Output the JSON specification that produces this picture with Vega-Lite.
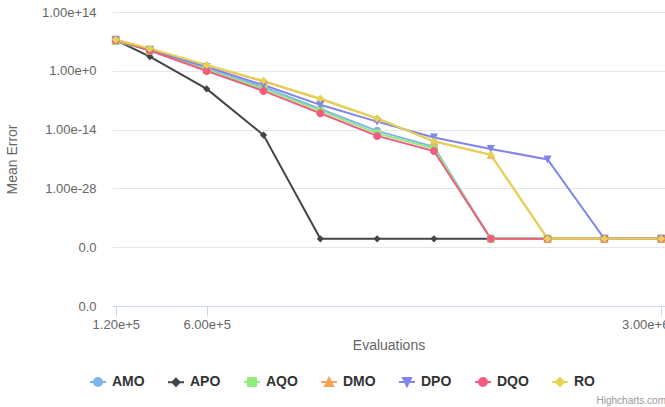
{
  "$schema": "https://vega.github.io/schema/vega-lite/v6.json",
  "width": 553,
  "height": 294,
  "autosize": "none",
  "padding": {"left": 112, "top": 12, "right": 0, "bottom": 101},
  "background": "#ffffff",
  "config": {
    "view": {"stroke": null},
    "font": "Liberation Sans"
  },
  "title": {
    "text": "Highcharts.com",
    "orient": "bottom",
    "anchor": "end",
    "frame": "group",
    "fontSize": 10,
    "fontWeight": "normal",
    "color": "#999999",
    "offset": 6,
    "dx": 1
  },
  "data": {
    "values": [
      {"s": "AMO", "x": 120000, "y": 2.0e7},
      {"s": "AMO", "x": 300000, "y": 7.9e4},
      {"s": "AMO", "x": 600000, "y": 2.5},
      {"s": "AMO", "x": 900000, "y": 1.26e-4},
      {"s": "AMO", "x": 1200000, "y": 7.9e-10},
      {"s": "AMO", "x": 1500000, "y": 5.0e-15},
      {"s": "AMO", "x": 1800000, "y": 7.9e-19},
      {"s": "AMO", "x": 2100000, "y": 1e-40},
      {"s": "AMO", "x": 2400000, "y": 1e-40},
      {"s": "AMO", "x": 2700000, "y": 1e-40},
      {"s": "AMO", "x": 3000000, "y": 1e-40},
      {"s": "APO", "x": 120000, "y": 2.0e7},
      {"s": "APO", "x": 300000, "y": 2.5e3},
      {"s": "APO", "x": 600000, "y": 5.0e-5},
      {"s": "APO", "x": 900000, "y": 5.0e-16},
      {"s": "APO", "x": 1200000, "y": 1e-40},
      {"s": "APO", "x": 1500000, "y": 1e-40},
      {"s": "APO", "x": 1800000, "y": 1e-40},
      {"s": "APO", "x": 2100000, "y": 1e-40},
      {"s": "APO", "x": 2400000, "y": 1e-40},
      {"s": "APO", "x": 2700000, "y": 1e-40},
      {"s": "APO", "x": 3000000, "y": 1e-40},
      {"s": "AQO", "x": 120000, "y": 1.26e7},
      {"s": "AQO", "x": 300000, "y": 6.3e4},
      {"s": "AQO", "x": 600000, "y": 1.6},
      {"s": "AQO", "x": 900000, "y": 5.0e-5},
      {"s": "AQO", "x": 1200000, "y": 3.2e-10},
      {"s": "AQO", "x": 1500000, "y": 1.26e-15},
      {"s": "AQO", "x": 1800000, "y": 3.2e-19},
      {"s": "AQO", "x": 2100000, "y": 1e-40},
      {"s": "AQO", "x": 2400000, "y": 1e-40},
      {"s": "AQO", "x": 2700000, "y": 1e-40},
      {"s": "AQO", "x": 3000000, "y": 1e-40},
      {"s": "DMO", "x": 120000, "y": 2.5e7},
      {"s": "DMO", "x": 300000, "y": 1.6e5},
      {"s": "DMO", "x": 600000, "y": 20},
      {"s": "DMO", "x": 900000, "y": 3.2e-3},
      {"s": "DMO", "x": 1200000, "y": 2.0e-7},
      {"s": "DMO", "x": 1500000, "y": 4.0e-12},
      {"s": "DMO", "x": 1800000, "y": 1.6e-17},
      {"s": "DMO", "x": 2100000, "y": 1.0e-20},
      {"s": "DMO", "x": 2400000, "y": 1e-40},
      {"s": "DMO", "x": 2700000, "y": 1e-40},
      {"s": "DMO", "x": 3000000, "y": 1e-40},
      {"s": "DPO", "x": 120000, "y": 2.5e7},
      {"s": "DPO", "x": 300000, "y": 1.0e5},
      {"s": "DPO", "x": 600000, "y": 7.9},
      {"s": "DPO", "x": 900000, "y": 4.0e-4},
      {"s": "DPO", "x": 1200000, "y": 7.9e-9},
      {"s": "DPO", "x": 1500000, "y": 7.9e-13},
      {"s": "DPO", "x": 1800000, "y": 1.26e-16},
      {"s": "DPO", "x": 2100000, "y": 2.5e-19},
      {"s": "DPO", "x": 2400000, "y": 7.9e-22},
      {"s": "DPO", "x": 2700000, "y": 1e-40},
      {"s": "DPO", "x": 3000000, "y": 1e-40},
      {"s": "DQO", "x": 120000, "y": 2.0e7},
      {"s": "DQO", "x": 300000, "y": 6.3e4},
      {"s": "DQO", "x": 600000, "y": 0.9},
      {"s": "DQO", "x": 900000, "y": 1.6e-5},
      {"s": "DQO", "x": 1200000, "y": 7.9e-11},
      {"s": "DQO", "x": 1500000, "y": 3.2e-16},
      {"s": "DQO", "x": 1800000, "y": 7.9e-20},
      {"s": "DQO", "x": 2100000, "y": 1e-40},
      {"s": "DQO", "x": 2400000, "y": 1e-40},
      {"s": "DQO", "x": 2700000, "y": 1e-40},
      {"s": "DQO", "x": 3000000, "y": 1e-40},
      {"s": "RO", "x": 120000, "y": 2.5e7},
      {"s": "RO", "x": 300000, "y": 2.0e5},
      {"s": "RO", "x": 600000, "y": 25},
      {"s": "RO", "x": 900000, "y": 4.0e-3},
      {"s": "RO", "x": 1200000, "y": 2.5e-7},
      {"s": "RO", "x": 1500000, "y": 5.0e-12},
      {"s": "RO", "x": 1800000, "y": 1.6e-17},
      {"s": "RO", "x": 2100000, "y": 1.0e-20},
      {"s": "RO", "x": 2400000, "y": 1e-40},
      {"s": "RO", "x": 2700000, "y": 1e-40},
      {"s": "RO", "x": 3000000, "y": 1e-40}
    ]
  },
  "encoding": {
    "x": {
      "field": "x",
      "type": "quantitative",
      "scale": {"domain": [100000, 3020000], "nice": false, "zero": false},
      "axis": {
        "title": "Evaluations",
        "values": [120000, 600000, 3000000],
        "format": ".2e",
        "grid": false,
        "domainColor": "#ccd6eb",
        "tickColor": "#ccd6eb",
        "tickSize": 10,
        "labelPadding": 2,
        "labelFontSize": 13,
        "labelColor": "#666666",
        "labelFont": "Liberation Sans",
        "labelOffset": {"condition": {"test": "datum.value >= 3000000", "value": -16}, "value": 0},
        "titleFont": "Liberation Sans",
        "titleFontSize": 14,
        "titleFontWeight": "normal",
        "titleColor": "#666666",
        "titlePadding": 7
      }
    },
    "y": {
      "field": "y",
      "type": "quantitative",
      "scale": {"type": "log", "domain": [1e-56, 1e14], "nice": false},
      "axis": {
        "title": "Mean Error",
        "values": [1e14, 1, 1e-14, 1e-28, 1e-42, 1e-56],
        "labelExpr": "datum.value < 1e-35 ? '0.0' : format(datum.value, '.2e')",
        "domain": false,
        "ticks": false,
        "gridColor": "#e6e6e6",
        "labelPadding": 16,
        "labelFontSize": 13,
        "labelColor": "#666666",
        "labelFont": "Liberation Sans",
        "titleFont": "Liberation Sans",
        "titleFontSize": 14,
        "titleFontWeight": "normal",
        "titleColor": "#666666",
        "titlePadding": 22
      }
    },
    "color": {
      "field": "s",
      "type": "nominal",
      "scale": {
        "domain": ["AMO", "APO", "AQO", "DMO", "DPO", "DQO", "RO"],
        "range": ["#7cb5ec", "#434348", "#90ed7d", "#f7a35c", "#8085e9", "#f15c80", "#e4d354"]
      },
      "legend": {
        "title": null,
        "orient": "none",
        "direction": "horizontal",
        "legendX": -23,
        "legendY": 361,
        "symbolSize": 256,
        "symbolStrokeWidth": 2,
        "labelFont": "Liberation Sans",
        "labelFontSize": 14,
        "labelFontWeight": "bold",
        "labelColor": "#333333",
        "labelOffset": 5,
        "columnPadding": 19,
        "gridAlign": "each"
      }
    }
  },
  "layer": [
    {
      "mark": {"type": "line", "strokeWidth": 2, "clip": false}
    },
    {
      "mark": {"type": "point", "filled": true, "size": 256, "opacity": 1, "strokeWidth": 0, "clip": false},
      "encoding": {
        "stroke": {
          "field": "s",
          "type": "nominal",
          "scale": {
            "domain": ["AMO", "APO", "AQO", "DMO", "DPO", "DQO", "RO"],
            "range": ["#7cb5ec", "#434348", "#90ed7d", "#f7a35c", "#8085e9", "#f15c80", "#e4d354"]
          },
          "legend": {
            "title": null,
            "orient": "none",
            "direction": "horizontal",
            "legendX": -23,
            "legendY": 361
          }
        },
        "shape": {
          "field": "s",
          "type": "nominal",
          "scale": {
            "domain": ["AMO", "APO", "AQO", "DMO", "DPO", "DQO", "RO"],
            "range": [
              "M-1,0H1M-0.5,0A0.5,0.5,0,1,1,0.5,0A0.5,0.5,0,1,1,-0.5,0Z",
              "M-1,0H1M0,-0.45L0.45,0L0,0.45L-0.45,0Z",
              "M-1,0H1M-0.5,-0.5H0.5V0.5H-0.5Z",
              "M-1,0H1M0,-0.5L0.5,0.5H-0.5Z",
              "M-1,0H1M-0.5,-0.5H0.5L0,0.5Z",
              "M-1,0H1M-0.5,0A0.5,0.5,0,1,1,0.5,0A0.5,0.5,0,1,1,-0.5,0Z",
              "M-1,0H1M0,-0.5L0.5,0L0,0.5L-0.5,0Z"
            ]
          },
          "legend": {
            "title": null,
            "orient": "none",
            "direction": "horizontal",
            "legendX": -23,
            "legendY": 361
          }
        }
      }
    }
  ]
}
